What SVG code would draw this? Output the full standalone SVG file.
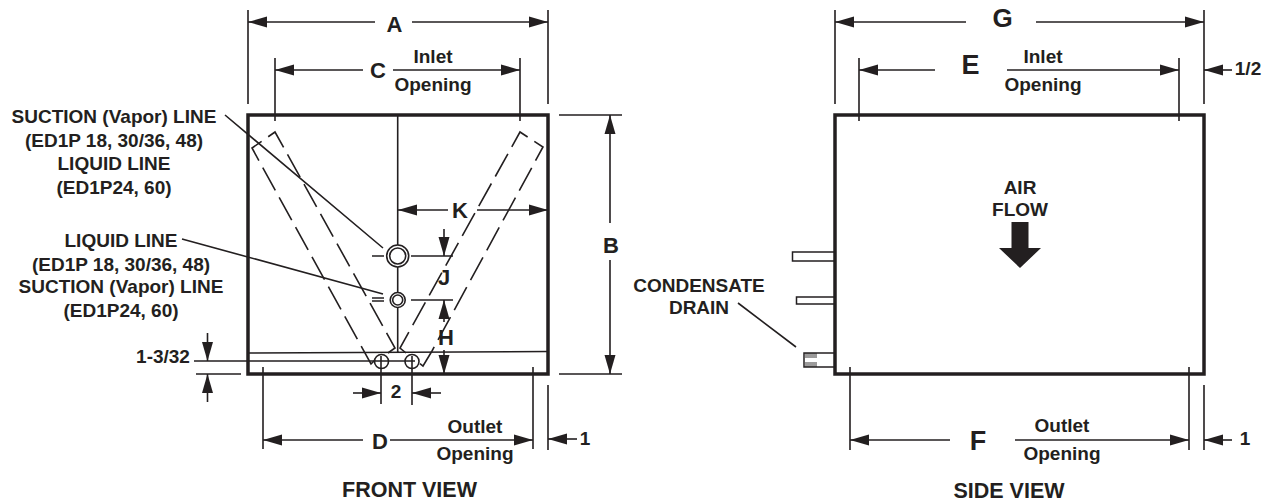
<svg xmlns="http://www.w3.org/2000/svg" width="1266" height="504" viewBox="0 0 1266 504">
<style>
text{font-family:"Liberation Sans",Arial,sans-serif;font-weight:700;fill:#231f20;text-anchor:middle}
.s{font-size:19px}.l{font-size:22px}.xl{font-size:27px}.t{font-size:21.5px}
.box{fill:none;stroke:#231f20;stroke-width:3.5}
.d{fill:none;stroke:#231f20;stroke-width:1.6}
.c{fill:none;stroke:#231f20;stroke-width:1.6;stroke-dasharray:26 8}
.p{fill:#fff;stroke:#231f20;stroke-width:1.5}
.th{fill:none;stroke:#231f20;stroke-width:.9}
</style>
<defs>
<marker id="a" viewBox="0 0 19 11" refX="19" refY="5.5" markerWidth="19" markerHeight="12" markerUnits="userSpaceOnUse" orient="auto-start-reverse"><path d="M0 0L19 5.5L0 11Z" fill="#231f20"/></marker>
</defs>
<rect width="1266" height="504" fill="#fff"/>
<g id="connectors" class="d">
<path d="M248 10V104M548 10V104M275 58V121M520 58V121M559 115H622M559 374H622M263 367V449M533 367V449M548 385V450M196 374H241M194 361H248M835 10V104M1204 10V104M859 58V121M1179 58V121M850 367V450M1189 367V450M1204 385V450"/>
<path d="M375 22H248" marker-end="url(#a)"/><path d="M412 22H548" marker-end="url(#a)"/>
<path d="M363 70H275" marker-end="url(#a)"/><path d="M393 70H520" marker-end="url(#a)"/>
<path d="M610 223V115" marker-end="url(#a)"/><path d="M610 260V374" marker-end="url(#a)"/>
<path d="M448 210H398" marker-end="url(#a)"/><path d="M477 210H548" marker-end="url(#a)"/>
<path d="M444 229V256" marker-end="url(#a)"/><path d="M444 322V300" marker-end="url(#a)"/><path d="M444 350V374" marker-end="url(#a)"/>
<path d="M207.500 333V361" marker-end="url(#a)"/><path d="M207.500 402V374" marker-end="url(#a)"/>
<path d="M353 393H381" marker-end="url(#a)"/><path d="M441 393H412" marker-end="url(#a)"/>
<path d="M363 440H263" marker-end="url(#a)"/><path d="M390 440H533" marker-end="url(#a)"/>
<path d="M577 439H548" marker-end="url(#a)"/>
<path d="M966 22H835" marker-end="url(#a)"/><path d="M1036 22H1204" marker-end="url(#a)"/>
<path d="M935 70H859" marker-end="url(#a)"/><path d="M1007 70H1179" marker-end="url(#a)"/>
<path d="M1232 70H1204" marker-end="url(#a)"/>
<path d="M950 440H850" marker-end="url(#a)"/><path d="M1015 440H1189" marker-end="url(#a)"/>
<path d="M1232 440H1204" marker-end="url(#a)"/>
<path d="M225 115L383 248M182 239L383 294M738 303L796 347"/>
</g>
<g id="front-view">
<path class="d" d="M397.700 115V245M397.700 267V292M397.700 308V352M248 353L548 351.500M248 361H415M372 256H384M411 256H453M372 298H384M372 301H384M411 300H453M381 356V404M412 356V405"/>
<path class="c" d="M388 353L395 348L275 132L252 148L371 364L376 359M406 353L400 348L520 132L543 147L432 351L423 366L418 362"/>
<circle class="d" cx="397.700" cy="256" r="11"/><circle class="d" cx="397.700" cy="256" r="8"/>
<circle class="d" cx="397.700" cy="300" r="7.500"/><circle class="d" cx="397.700" cy="300" r="5"/>
<circle class="d" cx="381.500" cy="361.500" r="7"/><circle class="d" cx="412" cy="361.500" r="7"/>
<rect class="box" x="248" y="115" width="300" height="259"/>
</g>
<g id="side-view">
<path class="p" d="M835 252H792.500V261H835M835 297H796.500V304H835M835 353H804V367H835"/>
<path class="th" d="M806 353v5M808 353v5M810 353v5M812 353v5M814 353v5M816 353v5M806 362v5M808 362v5M810 362v5M812 362v5M814 362v5M816 362v5"/>
<rect class="box" x="835" y="115" width="369" height="259"/>
<path id="air-flow-arrow" d="M1011.500 222H1028.500V248H1041L1020 268L999 248H1011.500Z" fill="#231f20"/>
</g>
<g id="labels">
<text class="l" x="394.500" y="32">A</text>
<text class="l" x="378" y="78">C</text>
<text class="s" x="433" y="63">Inlet</text>
<text class="s" x="433" y="91">Opening</text>
<text class="l" x="611" y="253">B</text>
<text class="l" x="460" y="218">K</text>
<text class="l" x="444" y="285">J</text>
<text class="l" x="446" y="345">H</text>
<text class="s" x="396" y="398">2</text>
<text class="l" x="380" y="449">D</text>
<text class="s" x="475" y="433">Outlet</text>
<text class="s" x="475" y="460">Opening</text>
<text class="s" x="585" y="445">1</text>
<text class="t" x="409.500" y="497">FRONT VIEW</text>
<text class="s" x="114" y="123">SUCTION (Vapor) LINE</text>
<text class="s" x="114" y="147">(ED1P 18, 30/36, 48)</text>
<text class="s" x="114" y="170">LIQUID LINE</text>
<text class="s" x="114" y="194">(ED1P24, 60)</text>
<text class="s" x="121" y="247">LIQUID LINE</text>
<text class="s" x="121" y="271">(ED1P 18, 30/36, 48)</text>
<text class="s" x="121" y="293">SUCTION (Vapor) LINE</text>
<text class="s" x="121" y="317">(ED1P24, 60)</text>
<text class="s" x="163" y="363">1-3/32</text>
<text class="xl" x="1002.500" y="27" style="font-size:26px">G</text>
<text class="xl" x="970.500" y="74">E</text>
<text class="s" x="1043" y="63">Inlet</text>
<text class="s" x="1043" y="91">Opening</text>
<text class="s" x="1248" y="75">1/2</text>
<text class="xl" x="978" y="450">F</text>
<text class="s" x="1062" y="432">Outlet</text>
<text class="s" x="1062" y="460">Opening</text>
<text class="s" x="1245" y="445">1</text>
<text class="t" x="1009" y="498">SIDE VIEW</text>
<text class="s" x="1020" y="194">AIR</text>
<text class="s" x="1020" y="216">FLOW</text>
<text class="s" x="699" y="292">CONDENSATE</text>
<text class="s" x="699" y="314">DRAIN</text>
</g>
</svg>
